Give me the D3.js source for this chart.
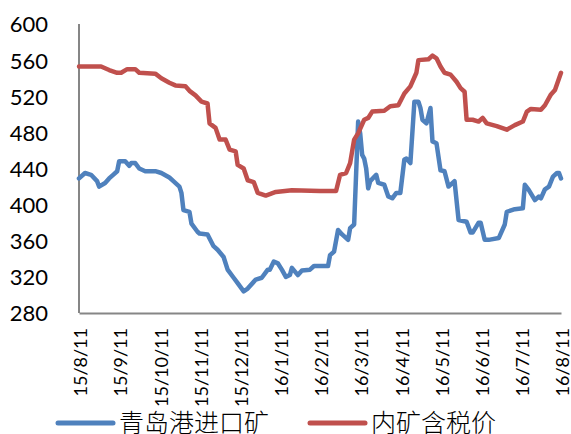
<!DOCTYPE html>
<html>
<head>
<meta charset="utf-8">
<script src="https://cdn.jsdelivr.net/npm/d3@7/dist/d3.min.js"></script>
<style>
  html, body { margin: 0; padding: 0; background: #fff; }
  svg { display: block; }
</style>
</head>
<body>
<svg id="chart" width="571" height="434"></svg>
<script>
// Category labels (evenly spaced, every 20 trading days)
const tickLabels = ["15/8/11","15/9/11","15/10/11","15/11/11","15/12/11","16/1/11","16/2/11","16/3/11","16/4/11","16/5/11","16/6/11","16/7/11","16/8/11"];
const tickDays = [0,20,40,60,80,100,120,140,160,180,200,220,240];
const yTicks = [280,320,360,400,440,480,520,560,600];

// 青岛港进口矿 (day index, value)
const blueDays = [0,3,6,9,10,13,15,17,19,20,23,25,26,28,30,33,38,41,45,47,50,51,52,55,56,59,60,64,67,69,72,74,77,79,82,84,88,91,94,95,97,99,101,103,105,106,109,111,115,117,124,125,127,129,131,134,135,137,138,139,140,141,142,143,144,145,148,149,152,154,156,158,160,162,163,165,167,169,170,171,173,175,176,178,180,182,184,187,189,193,195,196,199,200,202,204,209,212,213,217,221,222,224,227,229,230,232,234,236,238,239,240];
const blueValues = [429,435,433,426,420,424,429,433,437,448,448,443,446,446,440,437,437,435,430,426,420,413,394,392,379,370,368,367,354,350,342,328,319,313,304,307,317,319,328,328,337,335,328,320,322,330,322,327,328,332,332,344,348,372,367,361,374,378,435,492,479,455,451,440,418,426,433,424,422,409,407,413,413,450,451,446,514,514,507,494,490,507,470,468,438,437,420,426,383,381,369,369,380,380,361,361,363,378,392,395,396,422,416,405,409,407,417,420,431,435,435,429];

// 内矿含税价 (day index, value)
const redDays = [0,11,15,19,21,24,28,30,38,41,45,48,53,55,58,61,64,65,68,70,73,75,78,79,82,84,87,89,93,98,106,120,128,130,133,135,137,139,142,144,146,152,155,159,162,165,168,169,174,176,178,180,182,185,188,190,192,193,196,199,201,203,208,213,217,221,223,225,230,232,235,237,240];
const redValues = [553,553,549,546,546,550,550,546,545,540,535,532,531,526,521,514,512,490,485,472,472,461,459,444,440,427,425,413,410,414,416,415,415,433,435,446,472,479,494,496,503,504,509,510,523,531,546,560,561,565,562,553,546,544,536,529,525,494,494,492,496,490,487,483,488,492,503,506,505,510,522,527,546];

const seriesNames = ["青岛港进口矿","内矿含税价"];
const colors = ["#4F81BD","#C0504D"];

const svg = d3.select("#chart");
const x = d3.scaleLinear().domain([0,240]).range([79,561]);
const y = d3.scaleLinear().domain([280,600]).range([313,24]);

// Y axis labels
const yAxis = d3.axisLeft(y).tickValues(yTicks).tickSize(0).tickPadding(0);
const gy = svg.append("g").attr("transform","translate(48,0)").call(yAxis);
gy.select(".domain").remove();
gy.selectAll("text")
  .attr("font-family","Lato, 'Open Sans', sans-serif")
  .attr("font-size",22).attr("fill","#000").attr("dy","0.36em");

// Axis lines
svg.append("line").attr("x1",x(0)).attr("x2",x(0)).attr("y1",y(600)).attr("y2",y(280))
  .attr("stroke","#868686").attr("stroke-width",2);
const xAxis = d3.axisBottom(x).tickValues(tickDays).tickFormat((d,i)=>tickLabels[i]).tickSize(0).tickPadding(0);
const gx = svg.append("g").attr("transform",`translate(0,${y(280)})`).call(xAxis);
gx.select(".domain").attr("stroke","#868686").attr("stroke-width",2);
gx.selectAll("text")
  .attr("font-family","Lato, 'Open Sans', sans-serif")
  .attr("font-size",18).attr("fill","#000")
  .attr("text-anchor","end")
  .attr("y",0)
  .attr("dy","0.35em")
  .attr("transform","translate(1.5,15) rotate(-90)");

// Lines
const line = d3.line().x(d=>x(d[0])).y(d=>y(d[1]));
const blueData = d3.zip(blueDays, blueValues);
const redData = d3.zip(redDays, redValues);
[blueData, redData].forEach((data,i)=>{
  svg.append("path").datum(data)
    .attr("fill","none").attr("stroke",colors[i]).attr("stroke-width",4.5)
    .attr("stroke-linejoin","round").attr("stroke-linecap","round")
    .attr("d",line);
});

// Legend
const legendX = [58,310];
seriesNames.forEach((name,i)=>{
  const g = svg.append("g").attr("transform",`translate(${legendX[i]},423)`);
  g.append("line").attr("x1",0).attr("x2",55).attr("y1",0).attr("y2",0)
    .attr("stroke",colors[i]).attr("stroke-width",5).attr("stroke-linecap","round");
  g.append("text").attr("x",61).attr("y",0).attr("dy","0.36em")
    .attr("font-family","'Noto Sans CJK SC', sans-serif").attr("font-weight",300)
    .attr("font-size",25).attr("fill","#000").text(name);
});
</script>
</body>
</html>
